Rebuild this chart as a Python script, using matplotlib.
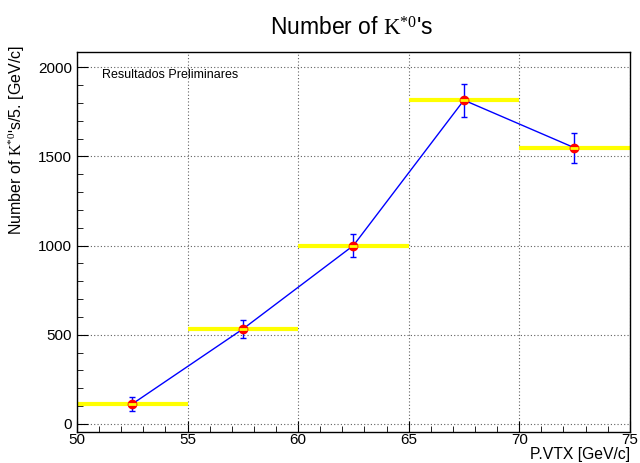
import matplotlib
matplotlib.use("Agg")
import matplotlib.pyplot as plt
from matplotlib.ticker import MultipleLocator

plt.rcParams['font.family'] = ['Liberation Sans', 'DejaVu Sans']
plt.rcParams['mathtext.fontset'] = 'custom'
plt.rcParams['mathtext.rm'] = 'Liberation Serif'
plt.rcParams['mathtext.it'] = 'Liberation Serif:italic'

bin_centers = [52.5, 57.5, 62.5, 67.5, 72.5]
bin_half_width = [2.5, 2.5, 2.5, 2.5, 2.5]
counts = [112, 532, 1000, 1815, 1548]
count_err = [38, 52, 65, 92, 84]

fig = plt.figure(figsize=(6.4, 4.63), dpi=100)
ax = fig.add_axes([0.1203, 0.067, 0.8637, 0.8207])

ax.errorbar(bin_centers, counts, xerr=bin_half_width, fmt='none', ecolor='#ffff00',
            elinewidth=3, capsize=0, zorder=2)
ax.errorbar(bin_centers, counts, yerr=count_err, fmt='none', ecolor='#0000ff',
            elinewidth=1, capsize=2, capthick=1, zorder=3)
ax.plot(bin_centers, counts, color='#0000ff', lw=1, zorder=3)
ax.plot(bin_centers, counts, 'o', color='#ff0000', ms=6, mec='#ff0000', zorder=4)
ax.plot(bin_centers, counts, '_', color='#ffff00', ms=6, mew=2, zorder=5)

ax.set_xlim(50, 75)
ax.set_ylim(-45, 2085)
ax.xaxis.set_major_locator(MultipleLocator(5))
ax.xaxis.set_minor_locator(MultipleLocator(1))
ax.yaxis.set_major_locator(MultipleLocator(500))
ax.yaxis.set_minor_locator(MultipleLocator(100))
ax.tick_params(which='both', direction='in', top=False, right=False, labelsize=11)
ax.tick_params(axis='x', which='major', pad=0.5)
ax.tick_params(which='major', length=8)
ax.tick_params(which='minor', length=4)
ax.grid(True, which='major', linestyle=(0, (1, 2)), color='#606060', lw=0.8)
for s in ax.spines.values():
    s.set_linewidth(1)

fig.text(630 / 640, 1 - 454 / 463, 'P.VTX [GeV/c]', fontsize=11.3, ha='right', va='center')
fig.text(17 / 640, 1 - 45 / 463, r"Number of $\mathrm{K}^{*0}$'s/5. [GeV/c]", fontsize=11.5,
         rotation=90, ha='center', va='top')
fig.text(352 / 640, 1 - 29 / 463, r"Number of $\mathrm{K}^{*0}$'s", fontsize=16.5,
         ha='center', va='center')
ax.text(0.045, 0.955, 'Resultados Preliminares', transform=ax.transAxes, fontsize=9,
        ha='left', va='top')

fig.savefig('out.png', dpi=100)
